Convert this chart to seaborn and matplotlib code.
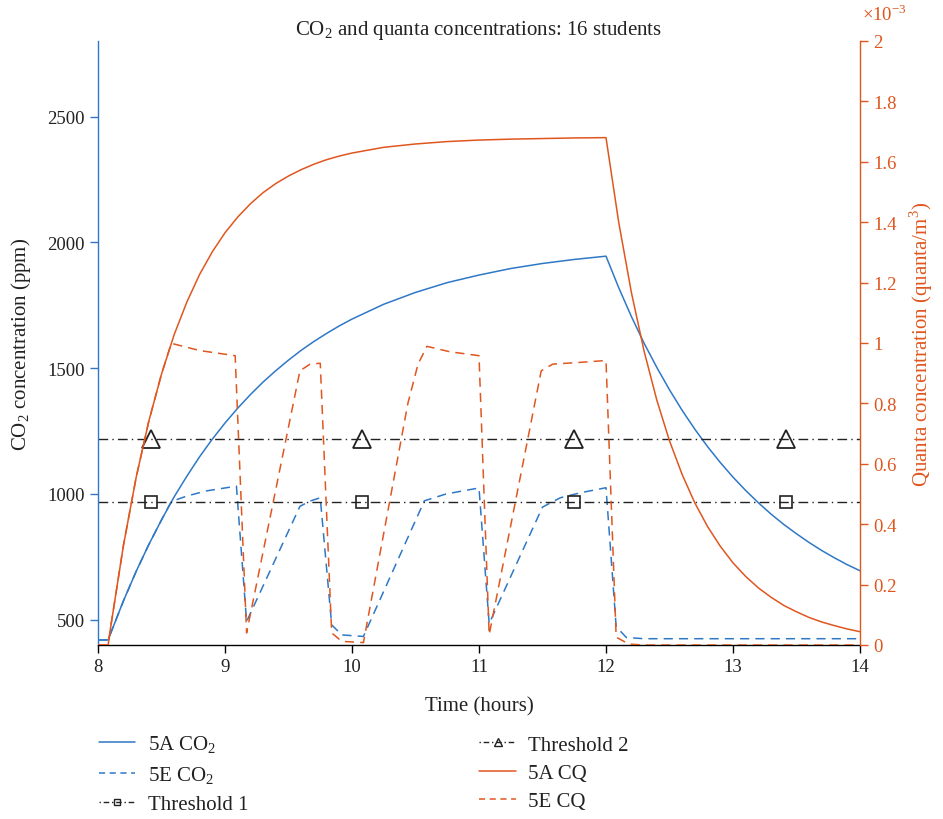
import numpy as np
import matplotlib
matplotlib.use("Agg")
import matplotlib.pyplot as plt
import seaborn as sns
from matplotlib.ticker import FuncFormatter
from matplotlib.lines import Line2D

# 5A classroom (continuous occupancy)
t_5a = [8.0, 8.08, 8.1, 8.2, 8.3, 8.4, 8.5, 8.6, 8.7, 8.8, 8.9, 9.0, 9.1, 9.2,
        9.3, 9.4, 9.5, 9.6, 9.7, 9.8, 9.9, 10.0, 10.25, 10.5, 10.75, 11.0, 11.25,
        11.5, 11.75, 12.0, 12.1, 12.2, 12.3, 12.4, 12.5, 12.6, 12.7, 12.8, 12.9,
        13.0, 13.1, 13.2, 13.3, 13.4, 13.5, 13.6, 13.7, 13.8, 13.9, 14.0]
co2_5a = [420, 420, 447, 575, 692, 799, 897, 989, 1071, 1148, 1218, 1282, 1341,
          1395, 1445, 1490, 1532, 1571, 1606, 1638, 1668, 1695, 1754, 1801, 1840,
          1870, 1896, 1916, 1932, 1945, 1820, 1705, 1599, 1503, 1414, 1332, 1257,
          1188, 1125, 1067, 1014, 965, 920, 879, 842, 807, 775, 746, 719, 695]
cq_5a = [0, 0, 0.060, 0.329, 0.554, 0.741, 0.897, 1.028, 1.136, 1.227, 1.302,
         1.365, 1.417, 1.461, 1.498, 1.528, 1.553, 1.574, 1.592, 1.607, 1.619,
         1.629, 1.648, 1.659, 1.667, 1.672, 1.675, 1.677, 1.679, 1.680, 1.400,
         1.167, 0.973, 0.811, 0.676, 0.564, 0.470, 0.392, 0.327, 0.272, 0.227,
         0.189, 0.158, 0.131, 0.110, 0.091, 0.076, 0.064, 0.053, 0.044]

# 5E classroom (with ventilation breaks)
t_5e_co2 = [8.0, 8.08, 8.1, 8.2, 8.3, 8.4, 8.5, 8.577, 8.7, 8.85, 9.0, 9.09,
            9.17, 9.59, 9.67, 9.75, 9.84, 9.92, 10.09, 10.57, 10.74, 11.0, 11.08,
            11.5, 11.64, 11.8, 12.0, 12.08, 12.16, 12.3, 14.0]
co2_5e = [420, 420, 447, 575, 692, 799, 897, 970, 992, 1012, 1024, 1031,
          493, 951, 972, 985, 480, 440, 434, 973, 1000, 1024, 485,
          948, 985, 1005, 1025, 473, 430, 425, 425]

t_5e_cq = [8.0, 8.08, 8.1, 8.2, 8.3, 8.4, 8.5, 8.577, 8.8, 9.08, 9.17, 9.59,
           9.67, 9.75, 9.84, 9.92, 10.09, 10.44, 10.52, 10.59, 10.77, 11.0, 11.08,
           11.49, 11.58, 11.8, 12.0, 12.08, 12.18, 12.3, 14.0]
cq_5e = [0, 0, 0.060, 0.329, 0.554, 0.741, 0.897, 0.999, 0.975, 0.958, 0.040,
         0.908, 0.930, 0.933, 0.040, 0.012, 0.008, 0.80, 0.93, 0.989, 0.971,
         0.958, 0.034, 0.908, 0.930, 0.936, 0.942, 0.026, 0.003, 0, 0]

# thresholds (ppm), with marker positions
thr_t = [8.0, 8.42, 10.08, 11.75, 13.42, 14.0]
thr1 = 970
thr2 = 1220

blue = "#2f78c6"
orange = "#e0561f"
ink = "#222222"

sns.set_theme(style="white")
plt.rcParams["font.family"] = ["Liberation Serif", "DejaVu Serif"]
plt.rcParams["mathtext.fontset"] = "custom"
plt.rcParams["mathtext.rm"] = "Liberation Serif"
fs = 15
ts = 13.5

fig = plt.figure(figsize=(9.43, 8.2), dpi=100)
ax = fig.add_axes([98 / 943, 1 - 646 / 820, 762 / 943, 604 / 820])
ax2 = ax.twinx()

sns.lineplot(x=t_5a, y=co2_5a, ax=ax, color=blue, lw=1.1)
sns.lineplot(x=t_5e_co2, y=co2_5e, ax=ax, color=blue, lw=1.1)
ax.lines[-1].set_dashes((6, 4))
sns.lineplot(x=thr_t, y=[thr1] * len(thr_t), ax=ax, color=ink, lw=1.0,
             marker="s", markersize=9, markerfacecolor="none", markeredgecolor=ink,
             markeredgewidth=1.2, markevery=[1, 2, 3, 4])
ax.lines[-1].set_dashes((7, 3, 1, 3))
sns.lineplot(x=thr_t, y=[thr2] * len(thr_t), ax=ax, color=ink, lw=1.0,
             marker="^", markersize=13, markerfacecolor="none", markeredgecolor=ink,
             markeredgewidth=1.3, markevery=[1, 2, 3, 4])
ax.lines[-1].set_dashes((7, 3, 1, 3))

sns.lineplot(x=t_5a, y=cq_5a, ax=ax2, color=orange, lw=1.1)
sns.lineplot(x=t_5e_cq, y=cq_5e, ax=ax2, color=orange, lw=1.1)
ax2.lines[-1].set_dashes((6, 4))

ax.set_xlim(8, 14)
ax.set_ylim(400, 2800)
ax2.set_ylim(0, 2)
ax.set_xticks([8, 9, 10, 11, 12, 13, 14])
ax.set_yticks([500, 1000, 1500, 2000, 2500])
ax2.set_yticks(np.arange(0, 2.01, 0.2))
ax2.yaxis.set_major_formatter(FuncFormatter(lambda v, p: "%g" % round(v, 1)))

ax.spines["top"].set_visible(False)
ax2.spines["top"].set_visible(False)
ax.spines["right"].set_visible(False)
ax2.spines["left"].set_visible(False)
ax2.spines["bottom"].set_visible(False)
ax.spines["left"].set_color(blue)
ax.spines["bottom"].set_color("black")
ax2.spines["right"].set_color(orange)
ax.spines["left"].set_linewidth(1.0)
ax.spines["bottom"].set_linewidth(1.0)
ax2.spines["right"].set_linewidth(1.0)

ax.tick_params(axis="y", direction="out", length=6, width=1, color=blue,
               labelcolor=ink, labelsize=ts, left=True)
ax.tick_params(axis="x", direction="out", length=6, width=1, color="black",
               labelcolor=ink, labelsize=ts, bottom=True)
ax2.tick_params(axis="y", direction="out", length=6, width=1, color=orange,
                labelcolor=orange, labelsize=ts, right=True)

ax.set_xlabel("Time (hours)", fontsize=fs, color=ink, labelpad=15)
ax.set_ylabel("CO$_2$ concentration (ppm)", fontsize=fs, color=ink, labelpad=10)
ax2.set_ylabel("Quanta concentration (quanta/m$^3$)", fontsize=fs, color=orange,
               labelpad=8)
ax.set_title("CO$_2$ and quanta concentrations: 16 students", fontsize=fs,
             color=ink, pad=5)
fig.text(862 / 943, 1 - 15 / 820, r"$\times$10$^{-3}$", color=orange, fontsize=ts,
         ha="left", va="center")

handles = [
    Line2D([], [], color=blue, lw=1.1),
    Line2D([], [], color=blue, lw=1.1, dashes=(4, 3)),
    Line2D([], [], color=ink, lw=1.0, dashes=(1, 2, 4, 2), marker="s",
           markersize=5, markerfacecolor="none"),
    Line2D([], [], color=ink, lw=1.0, dashes=(1, 2, 4, 2), marker="^",
           markersize=6, markerfacecolor="none"),
    Line2D([], [], color=orange, lw=1.1),
    Line2D([], [], color=orange, lw=1.1, dashes=(4, 3)),
]
labels = ["5A CO$_2$", "5E CO$_2$", "Threshold 1", "Threshold 2", "5A CQ", "5E CQ"]
fig.legend(handles, labels, loc="upper left", bbox_to_anchor=(80 / 943, 1 - 716 / 820),
           ncol=2, frameon=False, fontsize=fs, handlelength=1.75, handletextpad=0.6,
           columnspacing=11.1, labelspacing=0.42, labelcolor=ink)

fig.savefig("out.png", dpi=100, facecolor="white")
plt.close(fig)
